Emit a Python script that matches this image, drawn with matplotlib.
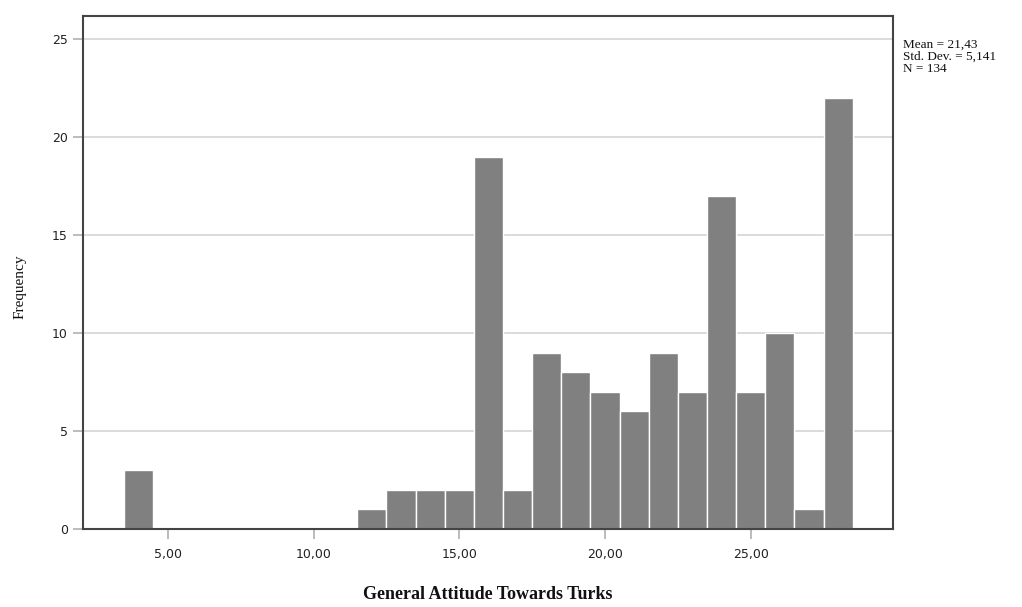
import matplotlib
matplotlib.use("Agg")
import matplotlib.pyplot as plt
from matplotlib.ticker import FuncFormatter

values = [4, 12, 13, 14, 15, 16, 17, 18, 19, 20, 21, 22, 23, 24, 25, 26, 27, 28]
counts = [3, 1, 2, 2, 2, 19, 2, 9, 8, 7, 6, 9, 7, 17, 7, 10, 1, 22]
x_ticks = [5, 10, 15, 20, 25]
y_ticks = [0, 5, 10, 15, 20, 25]
stats_text = "Mean = 21,43\nStd. Dev. = 5,141\nN = 134"
x_label = "General Attitude Towards Turks"
y_label = "Frequency"

fig = plt.figure(figsize=(10.22, 6.07), dpi=100)
ax = fig.add_axes([0.0815, 0.1285, 0.792, 0.8455])

ax.bar(values, counts, width=1.0, color="#808080", edgecolor="white",
       linewidth=1.0, zorder=3)

ax.set_xlim(2.1, 29.87)
ax.set_ylim(0, 26.2)
ax.set_xticks(x_ticks)
ax.set_yticks(y_ticks)
ax.xaxis.set_major_formatter(FuncFormatter(lambda v, p: f"{v:.2f}".replace(".", ",")))
ax.yaxis.grid(True, color="#d4d4d4", linewidth=1.2, zorder=0)
ax.set_axisbelow(True)

ax.tick_params(axis="both", colors="#b0b0b0", labelcolor="#222222",
               labelsize=9, length=7, width=1.2)
ax.tick_params(axis="x", pad=7)
ax.tick_params(axis="y", pad=4)

for s in ax.spines.values():
    s.set_color("#444444")
    s.set_linewidth(1.5)
    s.set_zorder(5)

ax.set_xlabel(x_label, family="Liberation Serif", fontweight="bold",
              fontsize=13, labelpad=18, color="#111111")
ax.set_ylabel(y_label, family="Liberation Serif", fontsize=11,
              color="#111111")
ax.yaxis.set_label_coords(-0.07, 0.4715)

fig.text(903 / 1022, 1 - 39 / 607, stats_text, family="Liberation Serif",
         fontsize=9.5, va="top", ha="left", linespacing=1.0, color="#111111")

fig.savefig("out.png", dpi=100)
